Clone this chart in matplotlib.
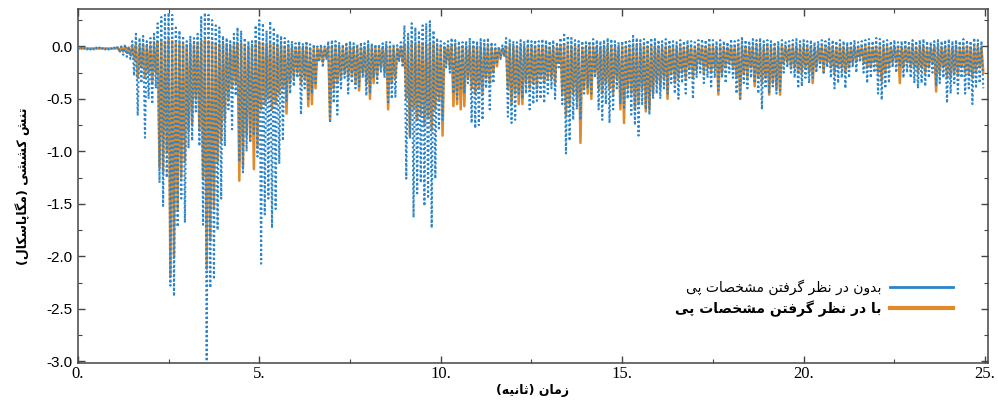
import numpy as np
import matplotlib
matplotlib.use('Agg')
import matplotlib.pyplot as plt
from matplotlib.lines import Line2D
from matplotlib.ticker import MultipleLocator, FormatStrFormatter, FuncFormatter

plt.rcParams['axes.unicode_minus'] = False

# texts (Persian)
xlabel_text = 'زمان (ثانیه)'
ylabel_text = 'تنش کششی (مگاپاسکال)'
label_without = 'بدون در نظر گرفتن مشخصات پی'
label_with = 'با در نظر گرفتن مشخصات پی'

# sampling step of the envelopes (s)
step = 0.1

# blue series (without foundation): lower peaks, one per 0.1 s
blue_low = [
    -0.03, -0.03, -0.03, -0.03, -0.03, -0.03, -0.03, -0.03, -0.03, -0.03,
    -0.03, -0.06, -0.08, -0.10, -0.12, -0.28, -0.66, -0.35, -0.87, -0.50,
    -0.55, -0.40, -1.30, -1.52, -1.25, -2.28, -2.38, -1.72, -1.45, -1.68,
    -0.97, -0.90, -0.62, -0.95, -1.70, -3.00, -2.30, -2.22, -1.75, -1.45,
    -0.95, -0.60, -0.79, -0.47, -1.10, -1.20, -1.00, -0.90, -0.85, -1.05,
    -2.07, -1.60, -1.45, -1.73, -1.55, -1.12, -0.90, -0.52, -0.45, -0.38,
    -0.30, -0.65, -0.40, -0.50, -0.45, -0.35, -0.15, -0.20, -0.12, -0.73,
    -0.54, -0.65, -0.40, -0.30, -0.45, -0.35, -0.40, -0.38, -0.30, -0.47,
    -0.45, -0.30, -0.35, -0.25, -0.30, -0.55, -0.50, -0.48, -0.15, -0.20,
    -1.26, -0.88, -1.63, -1.40, -1.30, -1.52, -1.45, -1.73, -1.26, -0.80,
    -0.70, -0.20, -0.25, -0.45, -0.50, -0.40, -0.45, -0.35, -0.73, -0.78,
    -0.75, -0.70, -0.40, -0.60, -0.35, -0.15, -0.12, -0.10, -0.67, -0.73,
    -0.70, -0.45, -0.50, -0.45, -0.60, -0.55, -0.52, -0.50, -0.54, -0.45,
    -0.40, -0.50, -0.20, -0.55, -1.02, -0.90, -0.70, -0.60, -0.70, -0.45,
    -0.40, -0.45, -0.30, -0.60, -0.70, -0.55, -0.73, -0.60, -0.40, -0.55,
    -0.60, -0.50, -0.65, -0.75, -0.85, -0.55, -0.60, -0.65, -0.50, -0.45,
    -0.50, -0.40, -0.45, -0.35, -0.45, -0.50, -0.35, -0.45, -0.30, -0.50,
    -0.30, -0.25, -0.35, -0.30, -0.40, -0.30, -0.42, -0.30, -0.35, -0.25,
    -0.30, -0.45, -0.50, -0.35, -0.40, -0.30, -0.35, -0.45, -0.60, -0.40,
    -0.45, -0.40, -0.45, -0.42, -0.25, -0.20, -0.25, -0.30, -0.40, -0.38,
    -0.30, -0.35, -0.30, -0.25, -0.20, -0.25, -0.20, -0.30, -0.40, -0.35,
    -0.30, -0.40, -0.30, -0.20, -0.25, -0.15, -0.25, -0.35, -0.30, -0.25,
    -0.45, -0.51, -0.40, -0.35, -0.20, -0.25, -0.20, -0.30, -0.25, -0.30,
    -0.35, -0.40, -0.35, -0.38, -0.30, -0.25, -0.38, -0.35, -0.30, -0.54,
    -0.45, -0.35, -0.45, -0.30, -0.45, -0.40, -0.55, -0.40, -0.35, -0.40,
]

# blue series: upper peaks
blue_high = [
    -0.01, -0.01, -0.01, -0.01, -0.01, -0.01, -0.01, -0.01, -0.01, -0.01,
    -0.01, 0.00, 0.00, 0.02, 0.00, 0.05, 0.12, 0.08, 0.10, 0.05,
    0.08, 0.12, 0.22, 0.28, 0.30, 0.32, 0.30, 0.18, 0.15, 0.10,
    0.05, 0.10, 0.08, 0.12, 0.28, 0.32, 0.30, 0.25, 0.20, 0.18,
    0.10, 0.08, 0.05, 0.12, 0.18, 0.15, 0.08, 0.05, 0.05, 0.20,
    0.25, 0.22, 0.15, 0.24, 0.18, 0.12, 0.10, 0.08, 0.05, 0.05,
    0.03, 0.05, 0.03, 0.05, 0.02, 0.02, 0.00, 0.02, 0.00, 0.05,
    0.06, 0.05, 0.04, 0.02, 0.04, 0.05, 0.03, 0.02, 0.04, 0.03,
    0.05, 0.03, 0.02, 0.02, 0.03, 0.05, 0.04, 0.02, 0.01, 0.04,
    0.20, 0.12, 0.22, 0.18, 0.15, 0.20, 0.22, 0.24, 0.15, 0.08,
    0.05, 0.03, 0.05, 0.08, 0.06, 0.05, 0.04, 0.05, 0.08, 0.06,
    0.05, 0.07, 0.06, 0.08, 0.04, 0.02, 0.00, 0.01, 0.08, 0.06,
    0.05, 0.04, 0.06, 0.05, 0.07, 0.05, 0.06, 0.05, 0.07, 0.06,
    0.05, 0.06, 0.04, 0.08, 0.13, 0.10, 0.08, 0.06, 0.05, 0.05,
    0.04, 0.05, 0.07, 0.06, 0.05, 0.06, 0.08, 0.07, 0.05, 0.04,
    0.05, 0.06, 0.05, 0.10, 0.08, 0.06, 0.07, 0.06, 0.08, 0.07,
    0.06, 0.05, 0.07, 0.06, 0.05, 0.04, 0.06, 0.05, 0.06, 0.05,
    0.04, 0.06, 0.07, 0.06, 0.08, 0.06, 0.05, 0.06, 0.05, 0.04,
    0.07, 0.05, 0.06, 0.08, 0.06, 0.05, 0.07, 0.06, 0.08, 0.05,
    0.06, 0.05, 0.04, 0.05, 0.06, 0.04, 0.05, 0.06, 0.07, 0.05,
    0.06, 0.05, 0.06, 0.04, 0.05, 0.06, 0.05, 0.07, 0.06, 0.05,
    0.06, 0.05, 0.04, 0.05, 0.06, 0.04, 0.05, 0.06, 0.07, 0.05,
    0.08, 0.07, 0.05, 0.06, 0.05, 0.06, 0.04, 0.05, 0.06, 0.05,
    0.06, 0.05, 0.06, 0.07, 0.05, 0.04, 0.05, 0.06, 0.05, 0.06,
    0.07, 0.05, 0.06, 0.05, 0.07, 0.06, 0.05, 0.08, 0.06, 0.05,
]

# orange series (with foundation): lower peaks
orange_low = [
    -0.02, -0.02, -0.02, -0.02, -0.02, -0.02, -0.02, -0.02, -0.02, -0.02,
    -0.02, -0.04, -0.05, -0.06, -0.08, -0.12, -0.30, -0.20, -0.30, -0.25,
    -0.35, -0.25, -1.15, -1.20, -1.00, -2.18, -2.00, -1.55, -1.25, -1.10,
    -0.80, -0.75, -0.50, -0.80, -1.25, -2.12, -1.85, -1.55, -1.10, -0.90,
    -0.70, -0.50, -0.40, -0.35, -1.28, -1.15, -0.85, -0.90, -1.17, -0.95,
    -0.60, -0.55, -0.50, -0.60, -0.55, -0.45, -0.40, -0.64, -0.35, -0.30,
    -0.25, -0.35, -0.30, -0.57, -0.55, -0.40, -0.12, -0.15, -0.10, -0.70,
    -0.40, -0.35, -0.30, -0.25, -0.30, -0.28, -0.35, -0.42, -0.25, -0.35,
    -0.50, -0.35, -0.28, -0.20, -0.25, -0.60, -0.35, -0.30, -0.12, -0.15,
    -0.50, -0.85, -0.60, -0.70, -0.65, -0.75, -0.68, -0.80, -0.60, -0.50,
    -0.85, -0.15, -0.20, -0.57, -0.55, -0.60, -0.57, -0.30, -0.40, -0.45,
    -0.40, -0.45, -0.30, -0.35, -0.25, -0.19, -0.10, -0.08, -0.40, -0.55,
    -0.45, -0.55, -0.55, -0.35, -0.40, -0.35, -0.40, -0.30, -0.35, -0.30,
    -0.30, -0.35, -0.15, -0.45, -0.66, -0.55, -0.45, -0.50, -0.92, -0.40,
    -0.45, -0.50, -0.25, -0.40, -0.45, -0.35, -0.40, -0.45, -0.30, -0.60,
    -0.73, -0.40, -0.45, -0.60, -0.55, -0.40, -0.62, -0.60, -0.45, -0.35,
    -0.40, -0.30, -0.50, -0.25, -0.35, -0.30, -0.25, -0.30, -0.20, -0.30,
    -0.22, -0.15, -0.25, -0.20, -0.25, -0.20, -0.46, -0.25, -0.20, -0.15,
    -0.20, -0.30, -0.50, -0.25, -0.30, -0.20, -0.38, -0.30, -0.35, -0.30,
    -0.46, -0.35, -0.40, -0.46, -0.15, -0.15, -0.20, -0.20, -0.25, -0.25,
    -0.20, -0.25, -0.35, -0.20, -0.15, -0.25, -0.15, -0.20, -0.25, -0.20,
    -0.20, -0.25, -0.20, -0.15, -0.15, -0.10, -0.15, -0.20, -0.20, -0.15,
    -0.25, -0.33, -0.25, -0.20, -0.15, -0.15, -0.35, -0.20, -0.15, -0.20,
    -0.20, -0.25, -0.20, -0.25, -0.20, -0.15, -0.43, -0.25, -0.20, -0.30,
    -0.30, -0.25, -0.28, -0.20, -0.25, -0.25, -0.30, -0.25, -0.20, -0.25,
]

# orange series: upper peaks
orange_high = [
    -0.02, -0.02, -0.02, -0.02, -0.02, -0.02, -0.02, -0.02, -0.02, -0.02,
    -0.02, -0.01, -0.01, 0.00, -0.01, 0.00, 0.02, 0.00, 0.02, 0.00,
    0.01, 0.02, 0.04, 0.05, 0.04, 0.06, 0.05, 0.03, 0.02, 0.02,
    0.00, 0.02, 0.01, 0.02, 0.04, 0.06, 0.05, 0.04, 0.03, 0.02,
    0.02, 0.01, 0.00, 0.02, 0.03, 0.02, 0.01, 0.00, 0.00, 0.03,
    0.04, 0.03, 0.02, 0.03, 0.02, 0.01, 0.01, 0.00, 0.00, -0.01,
    -0.01, 0.00, -0.01, 0.00, -0.02, -0.02, -0.02, -0.02, -0.02, 0.00,
    0.00, -0.01, -0.01, -0.02, -0.01, 0.00, -0.01, -0.02, -0.01, -0.01,
    0.00, -0.01, -0.02, -0.02, -0.01, 0.00, -0.01, -0.02, -0.02, -0.01,
    0.02, 0.01, 0.03, 0.02, 0.02, 0.03, 0.02, 0.03, 0.02, 0.00,
    0.00, -0.01, 0.00, 0.00, 0.00, -0.01, 0.00, -0.01, 0.00, 0.00,
    0.00, 0.00, -0.01, 0.00, -0.01, -0.02, -0.02, -0.02, 0.00, 0.00,
    0.00, -0.01, 0.00, -0.01, 0.00, -0.01, 0.00, -0.01, 0.00, 0.00,
    -0.01, 0.00, -0.01, 0.00, 0.02, 0.01, 0.00, 0.00, -0.01, -0.01,
    -0.01, 0.00, 0.00, 0.00, -0.01, 0.00, 0.00, 0.00, -0.01, -0.01,
    0.00, 0.00, -0.01, 0.01, 0.00, 0.00, 0.00, 0.00, 0.00, 0.00,
    0.00, -0.01, 0.00, 0.00, -0.01, -0.01, 0.00, -0.01, 0.00, -0.01,
    -0.01, 0.00, 0.00, 0.00, 0.00, 0.00, -0.01, 0.00, -0.01, -0.01,
    0.00, -0.01, 0.00, 0.00, 0.00, -0.01, 0.00, 0.00, 0.00, -0.01,
    0.00, -0.01, -0.01, -0.01, 0.00, -0.01, -0.01, 0.00, 0.00, -0.01,
    0.00, -0.01, 0.00, -0.01, -0.01, 0.00, -0.01, 0.00, 0.00, -0.01,
    0.00, -0.01, -0.01, -0.01, 0.00, -0.01, -0.01, 0.00, 0.00, -0.01,
    0.00, 0.00, -0.01, 0.00, -0.01, 0.00, -0.01, -0.01, 0.00, -0.01,
    0.00, -0.01, 0.00, 0.00, -0.01, -0.01, -0.01, 0.00, -0.01, 0.00,
    0.00, -0.01, 0.00, -0.01, 0.00, 0.00, -0.01, 0.00, 0.00, -0.01,
]

blue_color = '#2b84c8'
orange_color = '#e08a2c'

# --- minimal Arabic/Persian shaping (matplotlib has no bidi) ---
FORMS = {
    'ا': ('\uFE8D', '\uFE8E', None, None),
    'ب': ('\uFE8F', '\uFE90', '\uFE91', '\uFE92'),
    'ت': ('\uFE95', '\uFE96', '\uFE97', '\uFE98'),
    'ث': ('\uFE99', '\uFE9A', '\uFE9B', '\uFE9C'),
    'خ': ('\uFEA5', '\uFEA6', '\uFEA7', '\uFEA8'),
    'د': ('\uFEA9', '\uFEAA', None, None),
    'ر': ('\uFEAD', '\uFEAE', None, None),
    'ز': ('\uFEAF', '\uFEB0', None, None),
    'س': ('\uFEB1', '\uFEB2', '\uFEB3', '\uFEB4'),
    'ش': ('\uFEB5', '\uFEB6', '\uFEB7', '\uFEB8'),
    'ص': ('\uFEB9', '\uFEBA', '\uFEBB', '\uFEBC'),
    'ظ': ('\uFEC5', '\uFEC6', '\uFEC7', '\uFEC8'),
    'ف': ('\uFED1', '\uFED2', '\uFED3', '\uFED4'),
    'ل': ('\uFEDD', '\uFEDE', '\uFEDF', '\uFEE0'),
    'م': ('\uFEE1', '\uFEE2', '\uFEE3', '\uFEE4'),
    'ن': ('\uFEE5', '\uFEE6', '\uFEE7', '\uFEE8'),
    'ه': ('\uFEE9', '\uFEEA', '\uFEEB', '\uFEEC'),
    'و': ('\uFEED', '\uFEEE', None, None),
    'پ': ('\uFB56', '\uFB57', '\uFB58', '\uFB59'),
    'ک': ('\uFB8E', '\uFB8F', '\uFB90', '\uFB91'),
    'گ': ('\uFB92', '\uFB93', '\uFB94', '\uFB95'),
    'ی': ('\uFBFC', '\uFBFD', '\uFBFE', '\uFBFF'),
}


def shape(text):
    out = []
    for i, ch in enumerate(text):
        if ch not in FORMS:
            out.append(ch)
            continue
        iso, fin, ini, med = FORMS[ch]
        prev = text[i - 1] if i > 0 else ''
        nxt = text[i + 1] if i < len(text) - 1 else ''
        jp = prev in FORMS and FORMS[prev][2] is not None
        jn = ini is not None and nxt in FORMS
        if jp and jn:
            out.append(med)
        elif jp:
            out.append(fin)
        elif jn:
            out.append(ini)
        else:
            out.append(iso)
    return ''.join(out)[::-1].translate(str.maketrans('()', ')('))


# interleave upper and lower peaks into one oscillating trace
def trace(high, low):
    n = len(high)
    t = np.empty(2 * n)
    v = np.empty(2 * n)
    t[0::2] = np.arange(n) * step
    t[1::2] = np.arange(n) * step + step / 2
    v[0::2] = high
    v[1::2] = low
    return t, v


t_b, v_b = trace(blue_high, blue_low)
t_o, v_o = trace(orange_high, orange_low)

fig = plt.figure(figsize=(9.98, 4.05), dpi=100)
ax = fig.add_axes([0.078, 0.104, 0.912, 0.874])

ax.plot(t_o, v_o, color=orange_color, lw=1.8, zorder=2)
ax.plot(t_b, v_b, color=blue_color, lw=1.5, dashes=(1.0, 1.2), zorder=3)

ax.set_xlim(0, 25.08)
ax.set_ylim(-3.015, 0.357)

ax.xaxis.set_major_locator(MultipleLocator(5))
ax.xaxis.set_minor_locator(MultipleLocator(2.5))
ax.yaxis.set_major_locator(MultipleLocator(0.5))
ax.yaxis.set_minor_locator(MultipleLocator(0.25))
ax.xaxis.set_major_formatter(FuncFormatter(lambda x, p: '%d.' % round(x)))
ax.yaxis.set_major_formatter(FormatStrFormatter('%.1f'))

ax.tick_params(which='both', direction='in', top=True, right=True, color='#444444')
ax.tick_params(which='major', length=5, width=1)
ax.tick_params(which='minor', length=3, width=0.8)
for lab in ax.get_xticklabels():
    lab.set_fontfamily('Liberation Serif')
    lab.set_fontsize(12)
for lab in ax.get_yticklabels():
    lab.set_fontfamily('Liberation Sans')
    lab.set_fontsize(11)
ax.tick_params(axis='x', pad=2)

for sp in ax.spines.values():
    sp.set_color('#444444')
    sp.set_linewidth(1.1)

ax.set_xlabel(shape(xlabel_text), fontfamily='DejaVu Sans', fontsize=9,
              fontweight='bold', labelpad=2)
ax.set_ylabel(shape(ylabel_text), fontfamily='DejaVu Sans', fontsize=9,
              fontweight='bold', labelpad=12)

handles = [Line2D([], [], color=blue_color, lw=2),
           Line2D([], [], color=orange_color, lw=3)]
leg = ax.legend(handles, [shape(label_without), shape(label_with)],
                loc='center right', bbox_to_anchor=(0.975, 0.183),
                frameon=False, markerfirst=False, handlelength=4.5,
                handletextpad=0.6, labelspacing=0.4,
                prop={'family': 'DejaVu Sans', 'size': 10})
leg.get_texts()[1].set_fontweight('bold')

fig.savefig('out.png', dpi=100)
